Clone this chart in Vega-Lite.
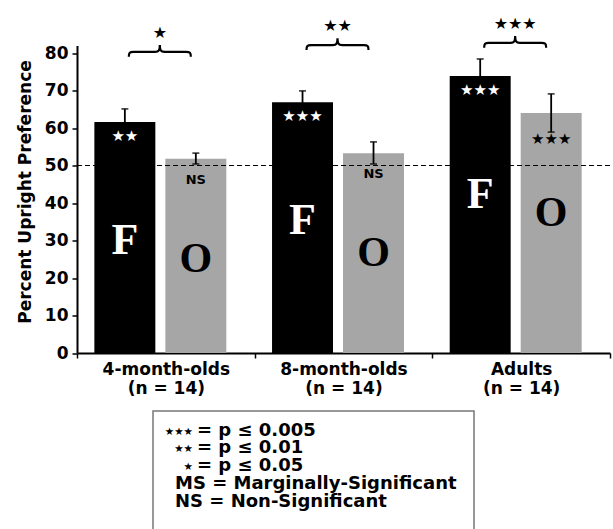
{
  "$schema": "https://vega.github.io/schema/vega-lite/v6.json",
  "width": 533,
  "height": 307.5,
  "autosize": {"type": "none"},
  "padding": {"left": 77, "top": 45.5, "right": 3, "bottom": 176},
  "background": "white",
  "config": {
    "view": {"stroke": null},
    "font": "DejaVu Sans",
    "axis": {"grid": false},
    "axisY": {
      "domainColor": "black", "domainWidth": 2, "tickColor": "black", "tickWidth": 1.5, "tickSize": 5,
      "labelFontWeight": "bold", "labelFontSize": 17, "labelColor": "black", "labelPadding": 4, "labelOverlap": false,
      "titleFontSize": 17, "titleFontWeight": "bold", "titleColor": "black",
      "titleX": -52, "titleY": 146, "titleAlign": "center", "titleBaseline": "middle", "titleAngle": -90
    }
  },
  "datasets": {
    "bars": [
      {"group": "4-month-olds", "face": "F", "pct": 61.6, "lo": 58.1, "hi": 65.1, "sig": "★★"},
      {"group": "4-month-olds", "face": "O", "pct": 51.8, "lo": 50.4, "hi": 53.3, "sig": "NS"},
      {"group": "8-month-olds", "face": "F", "pct": 66.9, "lo": 63.9, "hi": 69.9, "sig": "★★★"},
      {"group": "8-month-olds", "face": "O", "pct": 53.3, "lo": 50.4, "hi": 56.3, "sig": "NS"},
      {"group": "Adults", "face": "F", "pct": 73.9, "lo": 69.4, "hi": 78.4, "sig": "★★★"},
      {"group": "Adults", "face": "O", "pct": 64.0, "lo": 58.9, "hi": 69.1, "sig": "★★★"}
    ],
    "comparisons": [
      {"group": "4-month-olds", "level": 80.3, "sig": "★"},
      {"group": "8-month-olds", "level": 82.1, "sig": "★★"},
      {"group": "Adults", "level": 82.7, "sig": "★★★"}
    ],
    "key": [
      {"line": 1, "stars": "★★★", "text": "= p ≤ 0.005"},
      {"line": 2, "stars": "★★", "text": "= p ≤ 0.01"},
      {"line": 3, "stars": "★", "text": "= p ≤ 0.05"},
      {"line": 4, "stars": "", "text": "MS = Marginally-Significant"},
      {"line": 5, "stars": "", "text": "NS = Non-Significant"}
    ]
  },
  "layer": [
    {
      "encoding": {
        "x": {
          "field": "group", "type": "nominal", "sort": null, "title": null,
          "scale": {"paddingInner": 0, "paddingOuter": 0},
          "axis": {
            "domainColor": "black", "domainWidth": 2, "tickColor": "black", "tickWidth": 1.5, "tickSize": 5,
            "tickBand": "extent", "labelFont": "DejaVu Sans", "labelFontWeight": "bold", "labelFontSize": 17,
            "labelColor": "black", "labelPadding": 3, "labelAngle": 0, "labelLimit": 0,
            "labelExpr": "datum.label ? [datum.label, '(n = 14)'] : ''", "labelLineHeight": 19, "labelBaseline": "top"
          }
        }
      },
      "layer": [
        {
          "data": {"name": "bars"},
          "encoding": {
            "y": {
              "field": "pct", "type": "quantitative", "title": "Percent Upright Preference",
              "scale": {"domain": [0, 82], "nice": false, "zero": true},
              "axis": {"values": [0, 10, 20, 30, 40, 50, 60, 70, 80]}
            },
            "xOffset": {"field": "face", "type": "nominal", "scale": {"paddingInner": 0.141, "paddingOuter": 0.322, "align": 0.38}}
          },
          "layer": [
            {
              "mark": {"type": "bar"},
              "encoding": {
                "color": {"field": "face", "type": "nominal", "scale": {"domain": ["F", "O"], "range": ["#000000", "#a6a6a6"]}, "legend": null}
              }
            },
            {
              "mark": {"type": "rule", "strokeDash": [5, 3], "strokeWidth": 1.2, "color": "black"},
              "encoding": {"y": {"datum": 50, "type": "quantitative", "title": "Percent Upright Preference", "scale": {"domain": [0, 82], "nice": false}, "axis": {"values": [0, 10, 20, 30, 40, 50, 60, 70, 80]}}, "xOffset": null, "x": null}
            },
            {
              "mark": {"type": "rule", "strokeWidth": 1.8, "color": "black"},
              "encoding": {
                "y": {"field": "lo", "type": "quantitative", "title": "Percent Upright Preference", "scale": {"domain": [0, 82], "nice": false}, "axis": {"values": [0, 10, 20, 30, 40, 50, 60, 70, 80]}},
                "y2": {"field": "hi"}
              }
            },
            {
              "mark": {"type": "tick", "size": 7, "thickness": 1.8, "color": "black"},
              "encoding": {"y": {"field": "hi", "type": "quantitative", "title": "Percent Upright Preference", "scale": {"domain": [0, 82], "nice": false}, "axis": {"values": [0, 10, 20, 30, 40, 50, 60, 70, 80]}}}
            },
            {
              "mark": {"type": "tick", "size": 7, "thickness": 1.8, "color": "black"},
              "encoding": {"y": {"field": "lo", "type": "quantitative", "title": "Percent Upright Preference", "scale": {"domain": [0, 82], "nice": false}, "axis": {"values": [0, 10, 20, 30, 40, 50, 60, 70, 80]}}}
            },
            {
              "transform": [{"filter": "datum.face == 'F'"}],
              "mark": {"type": "text", "color": "white", "font": "DejaVu Sans", "fontSize": 15, "baseline": "middle", "dy": 14},
              "encoding": {"text": {"field": "sig"}}
            },
            {
              "transform": [{"filter": "datum.face == 'O' && datum.sig == 'NS'"}],
              "mark": {"type": "text", "color": "black", "font": "DejaVu Sans", "fontWeight": "bold", "fontSize": 13, "baseline": "middle", "dy": 21},
              "encoding": {"text": {"field": "sig"}}
            },
            {
              "transform": [{"filter": "datum.face == 'O' && datum.sig != 'NS'"}],
              "mark": {"type": "text", "color": "black", "font": "DejaVu Sans", "fontSize": 15, "baseline": "middle", "dy": 26},
              "encoding": {"text": {"field": "sig"}}
            },
            {
              "transform": [{"filter": "datum.face == 'F'"}],
              "mark": {"type": "text", "color": "white", "font": "Liberation Serif", "fontWeight": "bold", "fontSize": 44, "baseline": "middle", "dy": 119},
              "encoding": {"text": {"field": "face"}}
            },
            {
              "transform": [{"filter": "datum.face == 'O'"}],
              "mark": {"type": "text", "color": "black", "font": "Liberation Serif", "fontWeight": "bold", "fontSize": 42, "baseline": "middle", "dy": 100},
              "encoding": {"text": {"field": "face"}}
            }
          ]
        },
        {
          "data": {"name": "comparisons"},
          "encoding": {
            "y": {"field": "level", "type": "quantitative", "title": "Percent Upright Preference", "scale": {"domain": [0, 82], "nice": false}, "axis": {"values": [0, 10, 20, 30, 40, 50, 60, 70, 80]}}
          },
          "layer": [
            {
              "mark": {
                "type": "point",
                "shape": "M -1 0.16 C -1 0.03 -0.97 0 -0.85 0 L -0.15 0 C -0.03 0 0 -0.05 0 -0.22 C 0 -0.05 0.03 0 0.15 0 L 0.85 0 C 0.97 0 1 0.03 1 0.16",
                "size": 3844, "filled": false, "color": "black", "strokeWidth": 2.2, "opacity": 1, "xOffset": -6
              }
            },
            {
              "mark": {"type": "text", "color": "black", "font": "DejaVu Sans", "fontSize": 16, "baseline": "middle", "dy": -19, "xOffset": -6},
              "encoding": {"text": {"field": "sig"}}
            }
          ]
        }
      ]
    },
    {
      "data": {"name": "key"},
      "encoding": {
        "y": {"field": "line", "type": "quantitative", "scale": {"domain": [1, 5], "range": [390, 461.5], "nice": false, "zero": false}, "axis": null}
      },
      "layer": [
        {
          "transform": [{"filter": "datum.line == 1"}],
          "mark": {"type": "rect", "filled": false, "color": "#777777", "strokeWidth": 1.5},
          "encoding": {
            "x": {"datum": 0, "type": "quantitative", "scale": {"domain": [0, 1], "range": [76, 397], "nice": false, "zero": false}, "axis": null},
            "x2": {"datum": 1},
            "y": {"datum": -0.37, "type": "quantitative", "axis": null},
            "y2": {"datum": 6.5}
          }
        },
        {
          "transform": [{"filter": "datum.line <= 3"}],
          "mark": {"type": "text", "align": "right", "baseline": "alphabetic", "font": "DejaVu Sans", "fontSize": 10.5, "color": "black", "dy": -1},
          "encoding": {
            "x": {"datum": 0.1246, "type": "quantitative", "scale": {"domain": [0, 1], "range": [76, 397], "nice": false, "zero": false}, "axis": null},
            "text": {"field": "stars"}
          }
        },
        {
          "transform": [{"filter": "datum.line <= 3"}],
          "mark": {"type": "text", "align": "left", "baseline": "alphabetic", "font": "DejaVu Sans", "fontWeight": "bold", "fontSize": 18, "color": "black"},
          "encoding": {
            "x": {"datum": 0.137, "type": "quantitative", "scale": {"domain": [0, 1], "range": [76, 397], "nice": false, "zero": false}, "axis": null},
            "text": {"field": "text"}
          }
        },
        {
          "transform": [{"filter": "datum.line > 3"}],
          "mark": {"type": "text", "align": "left", "baseline": "alphabetic", "font": "DejaVu Sans", "fontWeight": "bold", "fontSize": 18, "color": "black"},
          "encoding": {
            "x": {"datum": 0.0685, "type": "quantitative", "scale": {"domain": [0, 1], "range": [76, 397], "nice": false, "zero": false}, "axis": null},
            "text": {"field": "text"}
          }
        }
      ]
    }
  ],
  "resolve": {"scale": {"x": "independent", "y": "independent"}}
}
